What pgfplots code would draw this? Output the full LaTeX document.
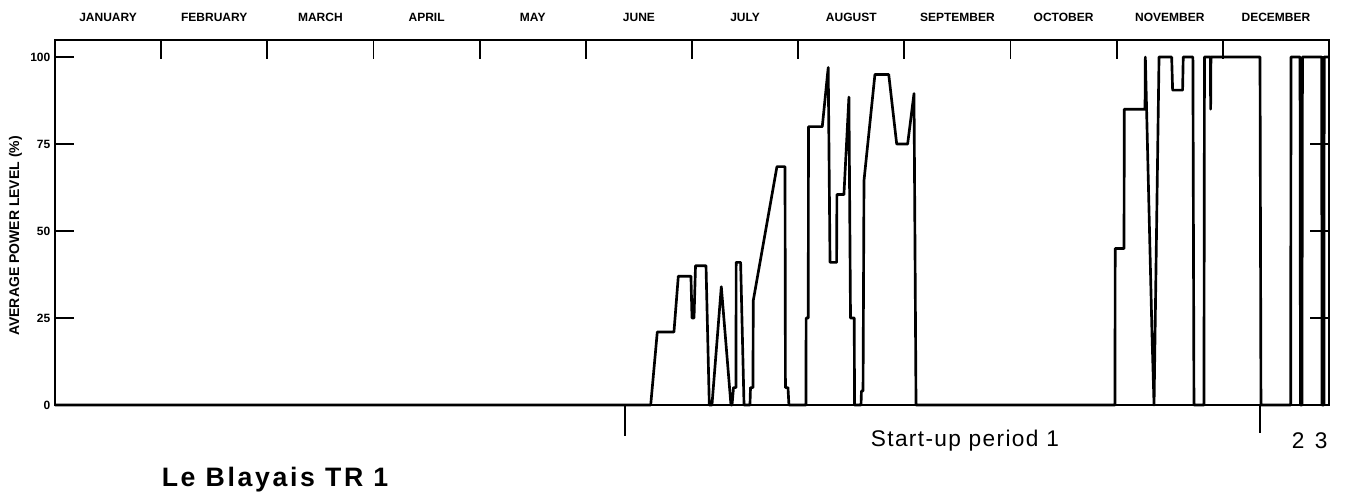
\documentclass[border=0pt]{standalone}
\usepackage{fontspec}
\setmainfont{Liberation Sans}
\usepackage{pgfplots}
\pgfplotsset{compat=1.18}
\begin{document}
\begin{tikzpicture}
\path[use as bounding box] (-41.25pt,-67.5pt) rectangle (970.5pt,303.75pt);
\begin{axis}[
  at={(0pt,0pt)}, anchor=south west,
  scale only axis, width=955.5pt, height=273.75pt,
  xmin=0, xmax=12, ymin=0, ymax=104.9,
  clip=false,
  axis line style={line width=1.9pt},
  xtick={0.5,1.5,...,11.5},
  xticklabels={JANUARY,FEBRUARY,MARCH,APRIL,MAY,JUNE,JULY,AUGUST,SEPTEMBER,OCTOBER,NOVEMBER,DECEMBER},
  minor xtick={1,2,...,11},
  xtick pos=right,
  tick align=inside,
  major x tick style={draw=none},
  minor x tick style={line width=1.4pt, black},
  minor tick length=14pt,
  major tick length=14pt,
  ytick={0,25,50,75,100},
  ytick pos=both, yticklabel pos=left,
  ytick style={line width=1.4pt, black},
  ticklabel style={font=\bfseries\fontsize{9}{10}\selectfont},
  /pgf/number format/assume math mode=true,
  xticklabel style={yshift=10pt},
  ylabel={AVERAGE POWER LEVEL (\%)},
  ylabel style={at={(axis description cs:-0.031,0.463)}, anchor=center, font=\bfseries\fontsize{10.5}{12}\selectfont},
]
\addplot[line width=2pt, line join=round, mark=none] coordinates {
(0,0) (5.611,0) (5.673,21) (5.830,21) (5.871,37) (5.990,37) (6.000,25) (6.019,25)
(6.033,40) (6.132,40) (6.163,0) (6.188,0) (6.276,34) (6.367,0) (6.377,0) (6.391,5)
(6.414,5) (6.416,41) (6.458,41) (6.490,0) (6.546,0) (6.551,5) (6.574,5) (6.577,30)
(6.800,68.5) (6.876,68.5) (6.880,5) (6.904,5) (6.913,0) (7.073,0) (7.075,25) (7.095,25)
(7.097,80) (7.227,80) (7.283,97) (7.300,41) (7.362,41) (7.365,60.5) (7.431,60.5)
(7.478,88.5) (7.493,25) (7.528,25) (7.531,0) (7.592,0) (7.596,4) (7.611,4) (7.620,64.5)
(7.723,95) (7.853,95) (7.928,75) (8.031,75) (8.091,89.5) (8.110,0) (9.984,0) (9.986,45)
(10.069,45) (10.072,85) (10.267,85) (10.270,100) (10.333,20) (10.352,0) (10.399,100)
(10.518,100) (10.527,90.5) (10.621,90.5) (10.627,100) (10.718,100) (10.728,0)
(10.822,0) (10.827,100) (10.883,100) (10.885,85) (10.888,100) (11.350,100) (11.359,0)
(11.639,0) (11.642,100) (11.727,100) (11.731,0) (11.745,0) (11.750,100) (11.931,100)
(11.934,0) (11.952,0) (11.955,100) (12,100)
};
\end{axis}
\draw[line width=1.4pt] (427.5pt,0pt) -- ++(0pt,-23pt);
\draw[line width=1.4pt] (903.75pt,0pt) -- ++(0pt,-21pt);
\node[font=\fontsize{17}{19}\selectfont\addfontfeatures{LetterSpace=6}] at (682.5pt,-27pt) {Start-up period\hspace{6pt}1};
\node[font=\fontsize{17}{19}\selectfont] at (941pt,-27pt) {2\hspace{0.45em}3};
\node[font=\bfseries\fontsize{20}{22}\selectfont\addfontfeatures{LetterSpace=10}] at (165pt,-56pt) {Le Blayais TR 1};
\end{tikzpicture}
\end{document}
